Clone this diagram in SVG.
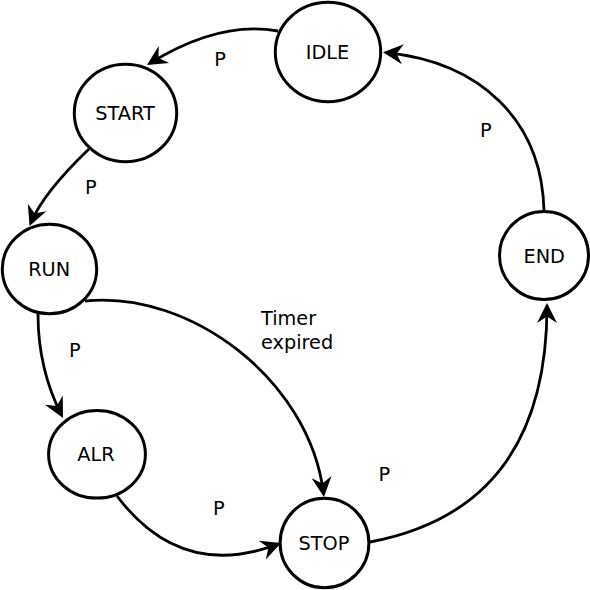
<svg xmlns="http://www.w3.org/2000/svg" width="590" height="590" viewBox="0 0 590 590">
<style>
  .node ellipse { fill: #ffffff; stroke: #000000; stroke-width: 3; }
  .node text, .lbl { font-family: "DejaVu Sans", "Liberation Sans", sans-serif; font-size: 19.3px; fill: #000000; }
  .node text { text-anchor: middle; }
  .edge { fill: none; stroke: #000000; stroke-width: 2.8; marker-end: url(#arr); }
</style>
<defs>
  <marker id="arr" markerUnits="userSpaceOnUse" markerWidth="1" markerHeight="1" refX="-3" refY="0" orient="auto" overflow="visible">
    <path d="M0,0 L-20,-10 L-13.5,0 L-20,10 Z" fill="#000000" stroke="none"/>
  </marker>
</defs>
<rect width="590" height="590" fill="#ffffff"/>
<g id="connectors">
  <path class="edge" d="M278,31 Q220,20 149.5,63.4"/>
  <path class="edge" d="M89,149 Q43,193 30.7,223.3"/>
  <path class="edge" d="M38,314 Q38,369 61.6,415.3"/>
  <path class="edge" d="M117,496 Q181,581 278.2,544"/>
  <path class="edge" d="M370,542 C460,525 547,470 547,306"/>
  <path class="edge" d="M544,211 C542,120 480,62 386,52.6"/>
  <path class="edge" d="M85,301 C190,290 310,380 323.6,494"/>
</g>
<g id="labels">
  <text class="lbl" x="214.3" y="65.7">P</text>
  <text class="lbl" x="85" y="194">P</text>
  <text class="lbl" x="69" y="356.7">P</text>
  <text class="lbl" x="213" y="515">P</text>
  <text class="lbl" x="378.5" y="480.7">P</text>
  <text class="lbl" x="480" y="136.7">P</text>
  <text class="lbl" x="261" y="325">Timer</text>
  <text class="lbl" x="261" y="349">expired</text>
</g>
<g id="node-idle" class="node">
  <ellipse cx="328" cy="52" rx="52.7" ry="49.7"/>
  <text x="327.5" y="58.8">IDLE</text>
</g>
<g id="node-start" class="node">
  <ellipse cx="125.5" cy="113" rx="51.2" ry="48.7"/>
  <text x="125" y="120">START</text>
</g>
<g id="node-run" class="node">
  <ellipse cx="49.5" cy="269" rx="47.2" ry="44.8"/>
  <text x="49.2" y="276">RUN</text>
</g>
<g id="node-alr" class="node">
  <ellipse cx="97" cy="454.3" rx="48.4" ry="43.8"/>
  <text x="96" y="461">ALR</text>
</g>
<g id="node-stop" class="node">
  <ellipse cx="324.5" cy="543" rx="44.4" ry="44.8"/>
  <text x="324" y="549.5">STOP</text>
</g>
<g id="node-end" class="node">
  <ellipse cx="544" cy="255.5" rx="44.5" ry="44"/>
  <text x="544.2" y="262.5">END</text>
</g>
</svg>
